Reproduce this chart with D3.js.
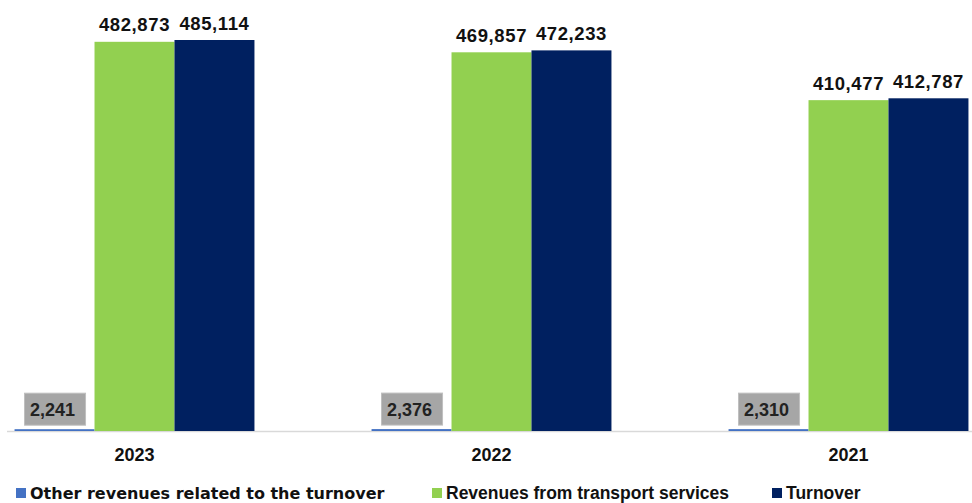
<!DOCTYPE html>
<html>
<head>
<meta charset="utf-8">
<script src="https://cdn.jsdelivr.net/npm/d3@7/dist/d3.min.js"></script>
<style>
  html, body { margin: 0; padding: 0; background: #fff; }
  svg { display: block; font-family: "Liberation Sans", Arial, sans-serif; }
</style>
</head>
<body>
<svg id="chart" width="972" height="503"></svg>
<script>
// Revenue breakdown by year
const years = ["2023", "2022", "2021"];
const seriesNames = [
  "Other revenues related to the turnover",
  "Revenues from transport services",
  "Turnover"
];
const otherRevenues = [2241, 2376, 2310];
const transportRevenues = [482873, 469857, 410477];
const turnover = [485114, 472233, 412787];
const seriesColors = ["#4472c4", "#92d050", "#002060"];

const seriesValues = [otherRevenues, transportRevenues, turnover];

const svg = d3.select("#chart");
const W = 972, H = 503;
const baseline = 431;

const x0 = d3.scaleBand()
  .domain(years)
  .range([-44, 1027])
  .paddingInner(0.328)
  .paddingOuter(0.164);

const x1 = d3.scaleBand()
  .domain(d3.range(seriesNames.length))
  .range([0, x0.bandwidth()])
  .padding(0);

const y = d3.scaleLinear()
  .domain([0, 540000])
  .range([baseline, baseline - 540000 * (391 / 485114)]);

const fmt = d3.format(",");

// category axis line
svg.append("line")
  .attr("x1", 7).attr("x2", W)
  .attr("y1", baseline + 0.5).attr("y2", baseline + 0.5)
  .attr("stroke", "#d9d9d9").attr("stroke-width", 1.5);

const groups = svg.selectAll("g.year")
  .data(years)
  .join("g")
  .attr("class", "year")
  .attr("transform", d => `translate(${x0(d)},0)`);

groups.each(function(year, yi) {
  const g = d3.select(this);
  seriesValues.forEach((vals, si) => {
    const v = vals[yi];
    const bx = x1(si);
    g.append("rect")
      .attr("x", bx)
      .attr("y", y(v))
      .attr("width", x1.bandwidth())
      .attr("height", baseline - y(v))
      .attr("fill", seriesColors[si]);

    const cx = bx + x1.bandwidth() / 2;
    if (si === 0) {
      // small value: label sits in a gray box just above the bar
      const bw = 61, bh = 32;
      g.append("rect")
        .attr("x", cx - bw / 2 + 0.5)
        .attr("y", y(v) - 4 - bh)
        .attr("width", bw)
        .attr("height", bh)
        .attr("fill", "#a6a6a6")
        .attr("stroke", "#bfbfbf")
        .attr("stroke-width", 1);
      g.append("text")
        .attr("x", cx - 2)
        .attr("y", y(v) - 13.5)
        .attr("text-anchor", "middle")
        .attr("font-size", "18px")
        .attr("font-weight", "bold")
        .attr("fill", "#222")
        .text(fmt(v));
    } else {
      g.append("text")
        .attr("x", cx)
        .attr("y", y(v) - 10.5)
        .attr("text-anchor", "middle")
        .attr("font-size", "18.5px")
        .attr("font-weight", "bold")
        .attr("letter-spacing", "0.6px")
        .attr("fill", "#111")
        .text(fmt(v));
    }
  });
  // year label
  g.append("text")
    .attr("x", x0.bandwidth() / 2)
    .attr("y", 461)
    .attr("text-anchor", "middle")
    .attr("font-size", "18px")
    .attr("font-weight", "bold")
    .attr("fill", "#111")
    .text(year);
});

// legend
const legendX = [16, 432, 772];
const legend = svg.selectAll("g.legend")
  .data(seriesNames)
  .join("g")
  .attr("class", "legend")
  .attr("transform", (d, i) => `translate(${legendX[i]},488)`);
legend.append("rect")
  .attr("width", 10).attr("height", 10)
  .attr("fill", (d, i) => seriesColors[i]);
legend.append("text")
  .attr("x", 14)
  .attr("y", 11)
  .attr("font-size", (d, i) => i === 0 ? "16px" : "17.5px")
  .attr("font-family", (d, i) => i === 0 ? "'DejaVu Sans', sans-serif" : null)
  .attr("font-weight", "bold")
  .attr("fill", "#111")
  .text(d => d);
</script>
</body>
</html>
